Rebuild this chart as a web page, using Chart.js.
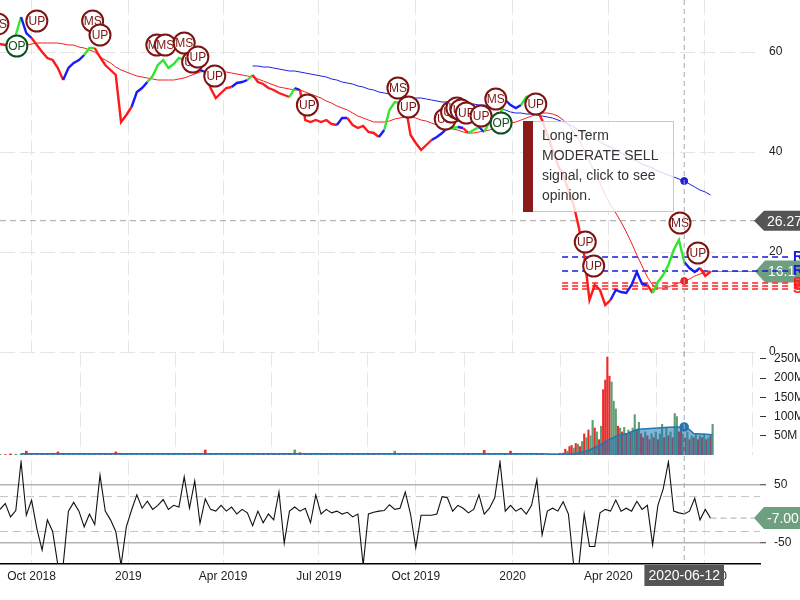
<!DOCTYPE html>
<html>
<head>
<meta charset="utf-8">
<script src="https://cdn.jsdelivr.net/npm/chart.js@4.4.0/dist/chart.umd.min.js"></script>
<style>
  html, body { margin: 0; padding: 0; background: #fff; overflow: hidden; }
  #wrap { position: relative; width: 800px; height: 600px; }
  #wrap canvas { position: absolute; left: 0; }
</style>
</head>
<body>
<div id="wrap">
  <canvas id="priceCanvas" width="800" height="360" style="top:0"></canvas>
  <canvas id="volCanvas" width="800" height="103" style="top:352px"></canvas>
  <canvas id="oscCanvas" width="800" height="144" style="top:456px"></canvas>
</div>
<script>
const FONT = "'Liberation Sans', Arial, Helvetica, sans-serif";
Chart.defaults.font.family = FONT;
Chart.defaults.animation = false;

const DAY0 = Date.parse('2018-09-01');
const toDay = s => (Date.parse(s) - DAY0) / 86400000;
const X_MAX = 722;

// x axis
const tickDates = ['2018-10-01', '2019-01-01', '2019-04-01', '2019-07-01', '2019-10-01', '2020-01-01', '2020-04-01', '2020-07-01'];
const tickLabels = ['Oct 2018', '2019', 'Apr 2019', 'Jul 2019', 'Oct 2019', '2020', 'Apr 2020', 'Jul 2020'];

// price series (every 5 days)
const priceDates = [
  '2018-09-01','2018-09-06','2018-09-11','2018-09-16','2018-09-21','2018-09-26','2018-10-01','2018-10-06','2018-10-11','2018-10-16',
  '2018-10-21','2018-10-26','2018-10-31','2018-11-05','2018-11-10','2018-11-15','2018-11-20','2018-11-25','2018-11-30','2018-12-05',
  '2018-12-10','2018-12-15','2018-12-20','2018-12-25','2018-12-30','2019-01-04','2019-01-09','2019-01-14','2019-01-19','2019-01-24',
  '2019-01-29','2019-02-03','2019-02-08','2019-02-13','2019-02-18','2019-02-23','2019-02-28','2019-03-05','2019-03-10','2019-03-15',
  '2019-03-20','2019-03-25','2019-03-30','2019-04-04','2019-04-09','2019-04-14','2019-04-19','2019-04-24','2019-04-29','2019-05-04',
  '2019-05-09','2019-05-14','2019-05-19','2019-05-24','2019-05-29','2019-06-03','2019-06-08','2019-06-13','2019-06-18','2019-06-23',
  '2019-06-28','2019-07-03','2019-07-08','2019-07-13','2019-07-18','2019-07-23','2019-07-28','2019-08-02','2019-08-07','2019-08-12',
  '2019-08-17','2019-08-22','2019-08-27','2019-09-01','2019-09-06','2019-09-11','2019-09-16','2019-09-21','2019-09-26','2019-10-01',
  '2019-10-06','2019-10-11','2019-10-16','2019-10-21','2019-10-26','2019-10-31','2019-11-05','2019-11-10','2019-11-15','2019-11-20',
  '2019-11-25','2019-11-30','2019-12-05','2019-12-10','2019-12-15','2019-12-20','2019-12-25','2019-12-30','2020-01-04','2020-01-09',
  '2020-01-14','2020-01-19','2020-01-24','2020-01-29','2020-02-03','2020-02-08','2020-02-13','2020-02-18','2020-02-23','2020-02-28',
  '2020-03-04','2020-03-09','2020-03-14','2020-03-19','2020-03-24','2020-03-29','2020-04-03','2020-04-08','2020-04-13','2020-04-18',
  '2020-04-23','2020-04-28','2020-05-03','2020-05-08','2020-05-13','2020-05-18','2020-05-23','2020-05-28','2020-06-02','2020-06-07',
  '2020-06-12','2020-06-17','2020-06-22','2020-06-27','2020-07-02','2020-07-07'
];
const price = [
  61.6,61.4,61.2,63.4,67.0,63.8,62.8,61.4,60.0,58.8,
  58.4,56.8,54.4,56.8,57.8,58.4,59.4,60.8,60.8,59.0,
  57.4,56.4,55.4,46.0,47.4,49.0,52.0,52.8,54.0,55.2,
  57.4,58.4,56.8,57.6,58.8,58.4,57.2,56.0,56.4,56.0,
  52.8,50.8,51.8,52.8,53.0,53.8,54.0,54.4,55.4,54.0,
  53.6,52.8,52.4,51.8,51.4,51.0,52.8,52.4,46.4,46.0,
  46.4,46.0,46.4,45.6,45.4,46.8,46.8,45.4,44.8,45.2,
  44.0,43.8,43.0,44.4,48.4,50.0,49.8,49.6,43.4,41.8,
  40.4,41.4,42.4,43.0,43.8,44.8,44.8,45.0,44.8,43.8,
  44.4,45.0,44.0,46.0,46.4,47.4,50.4,49.4,48.8,49.4,
  51.0,51.4,48.4,46.4,43.4,40.4,37.4,35.4,32.4,29.4,
  24.8,19.4,10.4,13.4,12.4,9.4,10.4,12.4,12.0,11.8,
  13.4,16.0,13.6,13.4,11.8,14.0,15.4,17.4,20.4,22.4,
  18.0,16.8,16.0,16.8,15.2,16.1
];
// r = down trend, b = neutral, g = up trend
const priceTrend = [
  'r','r','r','r','g','b','b','r','r','r',
  'r','r','r','b','b','b','b','g','g','r',
  'r','r','r','r','r','r','b','b','b','g',
  'g','g','g','g','g','g','b','b','b','b',
  'r','r','r','r','r','b','b','b','g','r',
  'r','r','r','r','r','r','g','b','r','r',
  'r','r','r','r','r','b','b','r','r','r',
  'r','r','r','b','g','g','g','g','r','r',
  'r','r','r','b','b','b','g','g','b','r',
  'g','g','b','g','g','g','g','b','b','b',
  'g','g','r','r','r','r','r','r','r','r',
  'r','r','r','r','r','r','r','b','b','b',
  'b','b','b','b','r','g','g','g','g','g',
  'g','b','b','b','r','r'
];

// moving averages
const sma50From = '2018-09-26';
const sma50 = [
  61.4,61.6,61.8,61.8,61.8,61.8,61.8,61.6,61.4,61.4,
  61.0,60.8,60.4,60.0,59.0,58.4,57.8,57.0,56.4,56.0,
  55.6,55.2,55.0,54.8,54.6,54.4,54.4,54.4,54.4,54.6,
  54.8,55.2,55.6,56.0,56.2,56.4,56.4,56.2,56.0,55.8,
  55.6,55.4,55.2,55.0,54.6,54.2,53.8,53.4,53.0,52.8,
  52.6,52.4,52.4,52.0,51.6,51.2,50.8,50.2,49.8,49.2,
  48.8,48.4,47.8,47.2,46.8,46.4,46.0,46.0,46.0,46.2,
  46.6,46.8,47.0,47.0,46.8,46.4,46.2,45.8,45.4,45.2,
  44.8,44.6,44.4,44.0,43.8,43.8,44.0,44.2,44.4,44.8,
  45.0,45.4,45.8,46.0,46.4,46.8,47.2,47.6,47.8,47.8,
  47.6,47.2,46.4,45.4,44.0,42.4,40.4,38.0,36.0,33.8,
  31.4,29.4,27.8,26.0,24.0,21.8,19.4,17.2,15.0,13.4,
  12.8,12.8,13.0,13.4,13.8,14.2,14.6,15.2,15.6,16.0,16.2
];
const sma200From = '2019-04-29';
const sma200 = [
  57.2,57.2,57.0,57.0,56.8,56.6,56.4,56.2,56.2,56.0,
  55.8,55.6,55.4,55.2,55.0,54.6,54.4,54.0,53.8,53.6,
  53.2,53.0,52.6,52.4,52.0,51.8,51.6,51.4,51.2,51.0,
  51.0,50.8,50.8,50.6,50.4,50.2,50.0,50.0,49.8,49.8,
  49.8,49.6,49.6,49.4,49.4,49.2,49.0,48.6,48.4,48.0,
  47.8,47.8,47.6,47.6,47.4,47.2,47.0,46.8,46.4,46.0,
  45.6,45.0,44.4,43.8,43.2,42.6,42.0,41.4,41.0,40.4,
  39.8,39.2,38.6,38.2,37.6,37.2,36.8,36.2,35.8,35.4,
  35.0,34.6,34.2,33.6,33.0,32.4,32.0,31.4
];

// support / resistance
const resistance = [19.0, 16.2];
const support = [13.8, 13.2, 12.6];
const levelStart = '2020-02-17';
const levelEnd = '2020-09-22';

// signal markers
const sigDates = ['2018-08-30','2018-09-17','2018-10-06','2018-11-28','2018-12-05','2019-01-28','2019-02-05','2019-02-23','2019-03-03','2019-03-08',
  '2019-03-24','2019-06-20','2019-09-14','2019-09-24','2019-10-29','2019-11-04','2019-11-09','2019-11-13','2019-11-18','2019-12-02',
  '2019-12-16','2019-12-21','2020-01-23','2020-03-10','2020-03-18','2020-06-08','2020-06-25'];
const sigValues = [65.6,61.2,66.2,66.2,63.4,61.4,61.4,61.8,58.0,59.0,
  55.2,49.4,52.8,49.0,46.6,48.0,48.8,48.4,47.8,47.2,
  50.6,45.8,49.6,22.0,17.2,25.8,19.8];
const sigTypes = ['MS','OP','UP','MS','UP','MS','MS','MS','UP','UP',
  'UP','UP','MS','UP','UP','UP','UP','UP','UP','UP',
  'MS','OP','UP','UP','UP','MS','UP'];
const signalText = ['Long-Term', 'MODERATE SELL', 'signal, click to see', 'opinion.'];

// crosshair
const crossDate = '2020-06-12';
const crossPrice = 26.27;

// volume (millions)
const volEarly = [
  2,1,3,2,3,10,3,2,4,2,
  3,8,2,3,2,3,2,4,3,3,
  2,4,8,3,3,2,2,3,4,2,
  2,3,2,2,3,2,3,2,3,13,
  4,2,3,2,2,3,2,2,3,2,
  3,2,3,2,3,2,13,6,4,3,
  2,3,2,2,3,2,2,3,2,2,
  3,2,2,3,4,10,3,2,3,2,
  3,2,2,3,2,4,2,3,2,2,
  3,2,12,2,3,2,3,10,2,3,
  2,3,2,2
];
const volLateDates = [
  '2020-02-04','2020-02-06','2020-02-08','2020-02-10','2020-02-12','2020-02-14','2020-02-16','2020-02-18','2020-02-20','2020-02-22','2020-02-24','2020-02-26','2020-02-28',
  '2020-03-01','2020-03-03','2020-03-05','2020-03-07','2020-03-09','2020-03-11','2020-03-13','2020-03-15','2020-03-17','2020-03-19','2020-03-21','2020-03-23','2020-03-25','2020-03-27','2020-03-29','2020-03-31',
  '2020-04-02','2020-04-04','2020-04-06','2020-04-08','2020-04-10','2020-04-12','2020-04-14','2020-04-16','2020-04-18','2020-04-20','2020-04-22','2020-04-24','2020-04-26','2020-04-28','2020-04-30',
  '2020-05-02','2020-05-04','2020-05-06','2020-05-08','2020-05-10','2020-05-12','2020-05-14','2020-05-16','2020-05-18','2020-05-20','2020-05-22','2020-05-24','2020-05-26','2020-05-28','2020-05-30',
  '2020-06-01','2020-06-03','2020-06-05','2020-06-07','2020-06-09','2020-06-11','2020-06-13','2020-06-15','2020-06-17','2020-06-19','2020-06-21','2020-06-23','2020-06-25','2020-06-27','2020-06-29',
  '2020-07-01','2020-07-03','2020-07-05','2020-07-07','2020-07-09'
];
const volLate = [
  2,1,2,3,2,4,3,5,15,10,22,25,18,
  30,28,22,35,55,45,65,50,90,70,60,40,75,170,195,255,
  205,190,140,120,75,70,60,72,55,65,60,70,105,65,85,
  55,45,60,50,40,55,45,60,40,55,80,45,70,50,60,
  45,108,100,60,75,55,45,60,40,50,45,55,40,50,45,
  55,40,45,50,80
];
const volLateTrend = [
  'r','g','r','r','g','r','r','r','r','g','r','r','g',
  'r','g','r','g','r','g','r','g','g','r','g','r','g','r','r','r',
  'r','g','g','g','r','g','r','g','r','g','r','g','g','r','g',
  'r','r','g','r','r','g','r','g','r','g','g','r','g','r','g',
  'r','g','g','r','r','g','r','g','r','g','r','g','r','g','r',
  'g','r','g','r','g'
];
const volAvgDates = ['2018-09-21','2019-06-01','2020-01-29','2020-02-12','2020-02-27','2020-03-05','2020-03-14','2020-03-24','2020-03-31',
  '2020-04-10','2020-04-19','2020-04-29','2020-05-11','2020-05-28','2020-06-12','2020-06-17','2020-06-21','2020-07-09'];
const volAvg = [3,3,3,2,3,6,13,26,38,51,56,67,69,72,73,66,56,53];

// oscillator
const osc = [
  8,18,-5,6,90,-2,24,-25,-62,-10,
  -30,-88,-88,5,20,5,-22,0,-18,67,
  5,-10,-30,-88,-22,7,33,10,22,8,
  15,25,8,15,12,64,10,57,-16,26,
  8,5,15,5,12,0,8,2,-20,5,
  -15,0,-10,38,-50,5,12,5,10,-15,
  33,0,8,2,5,0,3,-5,0,-88,
  0,3,5,6,16,8,10,38,0,-58,
  -2,-2,-2,0,30,28,5,15,10,2,
  8,33,0,10,28,90,5,15,5,10,
  0,15,59,-36,5,10,5,21,0,-88,
  -88,0,-56,-56,2,8,5,24,5,10,
  5,22,8,15,-53,15,43,90,5,2,
  0,5,27,-10,8,-7
];
const oscBands = [30, -30];
const chartStart = '2018-09-01';
const chartEnd = '2020-08-23';

const priceTicks = [0, 20, 40, 60];
const volTicks = [50, 100, 150, 200, 250];
const oscTicks = [-50, 50];

const TREND = { r: '#ff1a1a', b: '#1a1aff', g: '#2ee82e' };
const VOLC = { r: '#ee2b2b', g: '#5e9e73' };
const TAG_GREEN = '#6d9f80';
const crossIdx = priceDates.indexOf(crossDate);

function xAxis(showLabels) {
  return {
    type: 'linear', min: 0, max: X_MAX, offset: false,
    afterBuildTicks: s => { s.ticks = tickDates.map(d => ({ value: toDay(d) })); },
    afterFit: s => { s.height = showLabels ? 36 : 0; s.paddingLeft = 0; s.paddingRight = 0; },
    grid: { color: '#e6e6e6', lineWidth: 1, drawTicks: false },
    border: { display: showLabels, color: '#000', width: 1.5, dash: [15, 5] },
    ticks: {
      display: showLabels, autoSkip: false, maxRotation: 0, padding: 5, color: '#222',
      font: { size: 12 }, callback: (v, i) => tickLabels[i]
    }
  };
}

function fitY(s) { s.width = 40; s.paddingTop = 0; s.paddingBottom = 0; }

function tag(ctx, tipX, y, w, h, color, text) {
  ctx.save();
  ctx.setLineDash([]);
  ctx.fillStyle = color;
  ctx.beginPath();
  ctx.moveTo(tipX, y);
  ctx.lineTo(tipX + 10, y - h / 2);
  ctx.lineTo(tipX + w, y - h / 2);
  ctx.lineTo(tipX + w, y + h / 2);
  ctx.lineTo(tipX + 10, y + h / 2);
  ctx.closePath();
  ctx.fill();
  ctx.fillStyle = '#fff';
  ctx.font = '14px ' + FONT;
  ctx.textAlign = 'left';
  ctx.textBaseline = 'middle';
  ctx.fillText(text, tipX + 13, y + 1);
  ctx.restore();
}

function vCross(chart, bottom) {
  const { ctx, scales: { x } } = chart;
  const cx = x.getPixelForValue(toDay(crossDate));
  ctx.save();
  ctx.strokeStyle = '#a8a8a8';
  ctx.lineWidth = 1;
  ctx.setLineDash([5, 4]);
  ctx.beginPath();
  ctx.moveTo(cx, 0);
  ctx.lineTo(cx, bottom);
  ctx.stroke();
  ctx.restore();
  return cx;
}

const pts = (dates, vals) => vals.map((v, i) => ({ x: toDay(dates[i]), y: v }));
const fromIdx = d => priceDates.indexOf(d);
const levelLine = (v, color) => ({
  data: [{ x: toDay(levelStart), y: v }, { x: toDay(levelEnd), y: v }],
  borderColor: color, borderWidth: 1.5, borderDash: [6, 4], pointRadius: 0,
  clip: { left: 0, top: 0, right: 45, bottom: 0 }
});

// ---------- price panel ----------
const priceExtras = {
  id: 'priceExtras',
  beforeDatasetsDraw(chart) {
    const { ctx, chartArea: a, scales: { x, y } } = chart;
    ctx.save();
    const hy = y.getPixelForValue(crossPrice);
    ctx.strokeStyle = '#b4b4b4';
    ctx.lineWidth = 1.2;
    ctx.setLineDash([6, 4]);
    ctx.beginPath(); ctx.moveTo(a.left, hy); ctx.lineTo(a.right, hy); ctx.stroke();
    const last = price.length - 1;
    const lx = x.getPixelForValue(toDay(priceDates[last]));
    const ly = y.getPixelForValue(price[last]);
    ctx.setLineDash([]);
    ctx.strokeStyle = '#999';
    ctx.lineWidth = 1;
    ctx.beginPath(); ctx.moveTo(lx, ly); ctx.lineTo(a.right - 6, ly); ctx.stroke();
    ctx.restore();
    tag(ctx, a.right - 5, ly, 50, 22, TAG_GREEN, price[last].toFixed(1));
  },
  afterDatasetsDraw(chart) {
    const { ctx, chartArea: a, scales: { x, y } } = chart;
    // signal circles
    ctx.save();
    ctx.font = '12px ' + FONT;
    ctx.textAlign = 'center';
    ctx.textBaseline = 'middle';
    sigDates.forEach((d, i) => {
      const px = x.getPixelForValue(toDay(d));
      const py = y.getPixelForValue(sigValues[i]);
      const col = sigTypes[i] === 'OP' ? '#0f4f1c' : '#7d1414';
      ctx.beginPath();
      ctx.arc(px, py, 10.5, 0, Math.PI * 2);
      ctx.fillStyle = '#fff';
      ctx.fill();
      ctx.lineWidth = 2;
      ctx.strokeStyle = col;
      ctx.stroke();
      ctx.fillStyle = col;
      ctx.fillText(sigTypes[i], px, py + 0.5);
    });
    ctx.restore();

    vCross(chart, chart.height);

    // signal box
    ctx.save();
    ctx.fillStyle = 'rgba(255,255,255,0.82)';
    ctx.fillRect(523, 121, 150, 90);
    ctx.strokeStyle = '#c8c8c8';
    ctx.lineWidth = 1;
    ctx.strokeRect(523.5, 121.5, 150, 90);
    ctx.fillStyle = '#8b1a1a';
    ctx.fillRect(523, 121, 10, 91);
    ctx.fillStyle = '#333';
    ctx.font = '14px ' + FONT;
    ctx.textAlign = 'left';
    ctx.textBaseline = 'middle';
    signalText.forEach((t, i) => ctx.fillText(t, 542, 136 + i * 20));
    ctx.restore();

    tag(ctx, a.right - 6, y.getPixelForValue(crossPrice), 50, 20, '#555', crossPrice.toFixed(2));

    // level letters
    ctx.save();
    ctx.font = 'bold 14px ' + FONT;
    ctx.textAlign = 'left';
    ctx.textBaseline = 'middle';
    ctx.fillStyle = '#1a1ae0';
    resistance.forEach(v => ctx.fillText('R', a.right + 33, y.getPixelForValue(v)));
    ctx.fillStyle = '#ff1a1a';
    support.forEach(v => ctx.fillText('S', a.right + 33, y.getPixelForValue(v)));
    ctx.restore();
  }
};

new Chart(document.getElementById('priceCanvas'), {
  type: 'line',
  data: {
    datasets: [
      {
        data: pts(priceDates, price),
        borderColor: TREND.r, borderWidth: 2.4, pointRadius: 0, tension: 0,
        segment: { borderColor: c => TREND[priceTrend[c.p1DataIndex]] }
      },
      {
        data: pts(priceDates.slice(fromIdx(sma50From)), sma50),
        borderColor: '#f02020', backgroundColor: '#f02020', borderWidth: 1,
        pointRadius: c => (c.dataIndex + fromIdx(sma50From) === crossIdx ? 3.5 : 0)
      },
      {
        data: pts(priceDates.slice(fromIdx(sma200From)), sma200),
        borderColor: '#1f1fe0', backgroundColor: '#1f1fe0', borderWidth: 1,
        pointRadius: c => (c.dataIndex + fromIdx(sma200From) === crossIdx ? 3.5 : 0)
      },
      ...resistance.map(v => levelLine(v, '#1a1ad0')),
      ...support.map(v => levelLine(v, '#ff2020'))
    ]
  },
  options: {
    responsive: false, devicePixelRatio: 1, events: [],
    layout: { padding: { top: 0, bottom: 8, left: 0, right: 0 } },
    plugins: { legend: { display: false }, tooltip: { enabled: false } },
    scales: {
      x: xAxis(false),
      y: {
        position: 'right', min: 0, max: 70.4,
        afterBuildTicks: s => { s.ticks = priceTicks.map(v => ({ value: v })); },
        afterFit: fitY,
        grid: { color: '#e6e6e6', drawTicks: false },
        border: { display: false, dash: [15, 5] },
        ticks: { padding: 9, color: '#222', font: { size: 12 } }
      }
    }
  },
  plugins: [priceExtras]
});

// ---------- volume panel ----------
const volExtras = {
  id: 'volExtras',
  afterDatasetsDraw(chart) { vCross(chart, chart.height); }
};

new Chart(document.getElementById('volCanvas'), {
  type: 'bar',
  data: {
    datasets: [
      {
        type: 'line',
        data: pts(volAvgDates, volAvg),
        borderColor: '#1f77b4', borderWidth: 1.5,
        backgroundColor: 'rgba(31,119,180,0.55)', fill: 'origin',
        pointBackgroundColor: '#1f77b4',
        pointRadius: c => (volAvgDates[c.dataIndex] === crossDate ? 4 : 0),
        order: 0
      },
      {
        data: pts(priceDates.slice(0, volEarly.length), volEarly),
        backgroundColor: c => (c.dataIndex > 0 && price[c.dataIndex] < price[c.dataIndex - 1] ? VOLC.r : VOLC.g),
        barThickness: 2, grouped: false, order: 1
      },
      {
        data: pts(volLateDates, volLate),
        backgroundColor: c => VOLC[volLateTrend[c.dataIndex]],
        barThickness: 1.5, grouped: false, order: 1
      }
    ]
  },
  options: {
    responsive: false, devicePixelRatio: 1, events: [],
    layout: { padding: 0 },
    plugins: { legend: { display: false }, tooltip: { enabled: false } },
    scales: {
      x: xAxis(false),
      y: {
        position: 'right', min: 0, max: 268,
        afterBuildTicks: s => { s.ticks = volTicks.map(v => ({ value: v })); },
        afterFit: fitY,
        grid: { drawOnChartArea: false, drawTicks: true, tickLength: 6, tickColor: '#333', tickWidth: 1 },
        border: { display: false },
        ticks: { padding: 8, color: '#222', font: { size: 12 }, callback: v => v + 'M' }
      }
    }
  },
  plugins: [volExtras]
});

// ---------- oscillator panel ----------
const oscExtras = {
  id: 'oscExtras',
  afterDatasetsDraw(chart) {
    const { ctx, chartArea: a, scales: { x, y } } = chart;
    const cx = vCross(chart, a.bottom);
    const last = osc.length - 1;
    const lx = x.getPixelForValue(toDay(priceDates[last]));
    const ly = y.getPixelForValue(osc[last]);
    ctx.save();
    ctx.strokeStyle = '#aaa';
    ctx.lineWidth = 1;
    ctx.setLineDash([6, 4]);
    ctx.beginPath(); ctx.moveTo(lx, ly); ctx.lineTo(a.right - 6, ly); ctx.stroke();
    ctx.restore();
    tag(ctx, a.right - 6, ly, 52, 22, TAG_GREEN, osc[last].toFixed(2));

    // date label under the crosshair
    ctx.save();
    ctx.font = '14px ' + FONT;
    const w = ctx.measureText(crossDate).width + 8;
    ctx.fillStyle = '#555';
    ctx.fillRect(cx - w / 2, a.bottom + 1, w, 21);
    ctx.fillStyle = '#fff';
    ctx.textAlign = 'center';
    ctx.textBaseline = 'middle';
    ctx.fillText(crossDate, cx, a.bottom + 12);
    ctx.restore();
  }
};

new Chart(document.getElementById('oscCanvas'), {
  type: 'line',
  data: {
    datasets: [
      {
        data: pts(priceDates, osc),
        borderColor: '#111', borderWidth: 1.1, pointRadius: 0, tension: 0
      },
      ...oscBands.map(v => ({
        data: [{ x: toDay(chartStart), y: v }, { x: toDay(chartEnd), y: v }],
        borderColor: '#c4c4c4', borderWidth: 1, borderDash: [8, 5], pointRadius: 0
      }))
    ]
  },
  options: {
    responsive: false, devicePixelRatio: 1, events: [],
    layout: { padding: { top: 4, bottom: 0, left: 0, right: 0 } },
    plugins: { legend: { display: false }, tooltip: { enabled: false } },
    scales: {
      x: xAxis(true),
      y: {
        position: 'right', min: -86, max: 93,
        afterBuildTicks: s => { s.ticks = oscTicks.map(v => ({ value: v })); },
        afterFit: fitY,
        grid: { color: '#b4b4b4', lineWidth: 1.5, drawTicks: true, tickLength: 6, tickColor: '#333', tickWidth: 1 },
        border: { display: false },
        ticks: { padding: 8, color: '#222', font: { size: 12 } }
      }
    }
  },
  plugins: [oscExtras]
});
</script>
</body>
</html>
